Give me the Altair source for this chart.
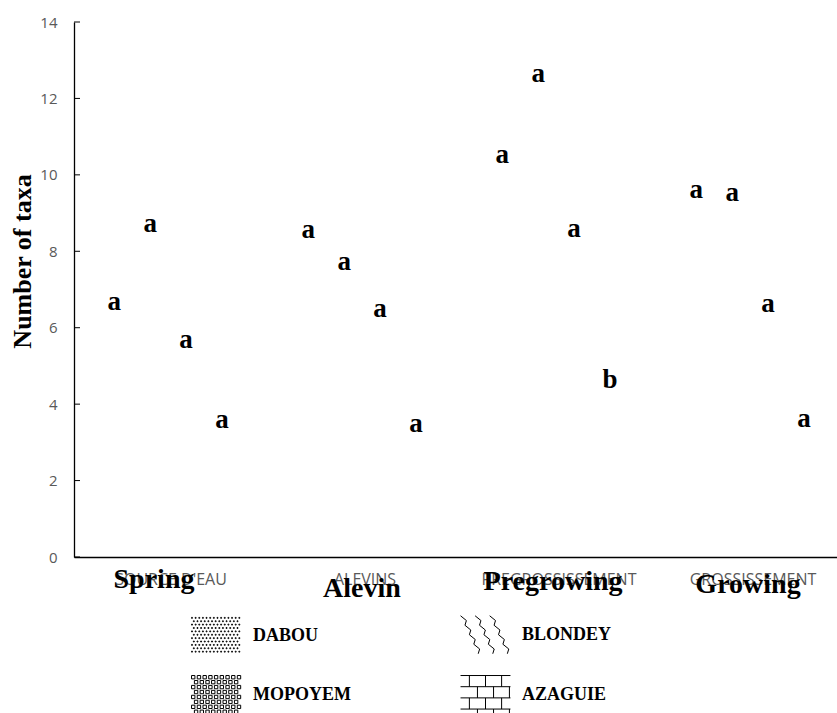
import altair as alt
import pandas as pd

# ---------------- data ----------------
stages_fr = ["SOURCE D'EAU", "ALEVINS", "PREGROSSISSEMENT", "GROSSISSEMENT"]
stages_en = ["Spring", "Alevin", "Pregrowing", "Growing"]
sites = ["DABOU", "MOPOYEM", "BLONDEY", "AZAGUIE"]          # bar order in each group

dabou = [6.39, 8.27, 10.23, 9.32]
mopoyem = [8.43, 7.43, 12.35, 9.24]
blondey = [5.39, 6.20, 8.30, 6.33]
azaguie = [3.30, 3.19, 4.34, 3.32]

dabou_let = ["a", "a", "a", "a"]
mopoyem_let = ["a", "a", "a", "a"]
blondey_let = ["a", "a", "a", "a"]
azaguie_let = ["a", "a", "b", "a"]

yticks = [0, 2, 4, 6, 8, 10, 12, 14]

# grouped layout (style): spacing of bars inside a group, in group units
BAR_STEP = 0.185
GROUP_SHIFT = -0.015

rows = []
for si, (site, vals, lets) in enumerate(zip(sites, [dabou, mopoyem, blondey, azaguie],
                                            [dabou_let, mopoyem_let, blondey_let, azaguie_let])):
    for gi, (st, v, l) in enumerate(zip(stages_fr, vals, lets)):
        rows.append({"stage": st, "site": site, "value": v, "letter": l,
                     "pos": gi + (si - 1.5) * BAR_STEP + GROUP_SHIFT})
df = pd.DataFrame(rows)

# ---------------- pattern swatches as symbol paths ----------------
HX, HY = 0.96, 0.73


def dots(step_x, step_y, d, stagger):
    parts = []
    r = 0
    y = -HY
    while y <= HY - d + 1e-9:
        x = -HX + (step_x / 2 if (stagger and r % 2) else 0)
        while x <= HX - d + 1e-9:
            parts.append(f"M{x:.3f},{y:.3f}L{x+d:.3f},{y:.3f}L{x+d:.3f},{y+d:.3f}L{x:.3f},{y+d:.3f}Z")
            x += step_x
        y += step_y
        r += 1
    return "".join(parts)


def waves():
    parts = []
    for k in range(3):
        x0 = -HX + 0.0 + k * 0.56
        pts = []
        n = 9
        for j in range(n):
            y = -HY + j * (2 * HY / (n - 1))
            x = x0 + j * 0.085 + (0.14 if j % 2 else 0.0)
            pts.append((max(-HX, min(x, HX)), y))
        parts.append("M" + "L".join(f"{x:.3f},{y:.3f}" for x, y in pts))
    return "".join(parts)


def bricks():
    parts = []
    levels = [-HY, -0.30, 0.13, 0.56]
    for y in levels:
        parts.append(f"M{-HX:.3f},{y:.3f}L{HX:.3f},{y:.3f}")
    for i in range(len(levels)):
        y0 = levels[i]
        y1 = levels[i + 1] if i + 1 < len(levels) else HY
        xs = [-0.62, 0.0, 0.62] if i % 2 == 0 else [-0.31, 0.31, 0.92]
        for x in xs:
            parts.append(f"M{x:.3f},{y0:.3f}L{x:.3f},{y1:.3f}")
    return "".join(parts)


shape_paths = {
    "DABOU": dots(0.14, 0.13, 0.035, True),
    "MOPOYEM": dots(0.22, 0.19, 0.13, True),
    "BLONDEY": waves(),
    "AZAGUIE": bricks(),
}

# ---------------- encodings ----------------
x_enc = alt.X(
    "stage:N",
    sort=stages_fr,
    scale=alt.Scale(type="band", domain=stages_fr, range=[0, 776],
                    paddingInner=0, paddingOuter=0),
    axis=alt.Axis(title=None, labelAngle=0, labelColor="#595959", labelFont="Open Sans",
                  labelFontSize=16, ticks=False, domainColor="black", domainWidth=1.3,
                  labelPadding=14, labelLimit=0),
)
x_pos = alt.X("pos:Q", scale=alt.Scale(domain=[-0.5, 3.5], range=[0, 776], nice=False, zero=False),
              axis=None)
y_axis = alt.Axis(values=yticks, grid=False, ticks=False, domainColor="black", domainWidth=1.3,
                  labelColor="#595959", labelFont="Open Sans", labelFontSize=15, labelPadding=17,
                  title="Number of taxa", titleFont="Liberation Serif", titleFontSize=26,
                  titleFontWeight="bold", titleColor="black", titleX=-52, titleY=239,
                  titleAngle=270, titleAlign="center", titleBaseline="middle")
y_enc = alt.Y("value:Q", scale=alt.Scale(domain=[0, 14], nice=False, zero=True), axis=y_axis)

base = alt.Chart(df)

letters = base.mark_text(font="Liberation Serif", fontWeight="bold", fontSize=27,
                         baseline="alphabetic", align="center", dy=-3, color="black").encode(
    x=x_pos, y=y_enc, text="letter:N")

legend_pts = base.mark_point(filled=False, opacity=0, color="black").encode(
    x=x_pos, y=y_enc,
    shape=alt.Shape("site:N",
                    scale=alt.Scale(domain=sites,
                                    range=[shape_paths[s] for s in sites]),
                    legend=alt.Legend(title=None, orient="none", legendX=116, legendY=586,
                                      columns=2, columnPadding=107, rowPadding=12,
                                      symbolSize=2704, symbolStrokeWidth=1,
                                      symbolStrokeColor="black", symbolOpacity=1,
                                      labelFont="Liberation Serif", labelFontSize=18,
                                      labelFontWeight="bold", labelColor="black",
                                      labelOffset=10, padding=0, labelLimit=0)))

tick_df = pd.DataFrame({"value": yticks})
yticks_layer = alt.Chart(tick_df).mark_rule(color="black", strokeWidth=1).encode(
    y=y_enc, x=alt.value(0), x2=alt.value(6))

# overlay English stage names (style offsets only)
label_dx = [-17, -3, -6, -5]
label_y = [566, 575, 568, 571]
overlays = []
for st, en, ddx, yy in zip(stages_fr, stages_en, label_dx, label_y):
    odf = pd.DataFrame({"stage": [st], "label": [en]})
    overlays.append(
        alt.Chart(odf).mark_text(font="Liberation Serif", fontWeight="bold", fontSize=28,
                                 baseline="alphabetic", align="center", dx=ddx,
                                 color="black").encode(
            x=x_enc, y=alt.value(yy), text="label:N"))

axis_part = alt.layer(yticks_layer, *overlays)
marks_part = alt.layer(legend_pts, letters)

chart = alt.layer(axis_part, marks_part).resolve_scale(x="independent").properties(
    width=763, height=535,
    autosize=alt.AutoSizeParams(type="none"),
    padding={"left": 74, "top": 22, "right": 0, "bottom": 156},
    background="white",
).configure_view(stroke=None)

chart.save("out.html", embed_options={"renderer": "svg", "actions": False})
